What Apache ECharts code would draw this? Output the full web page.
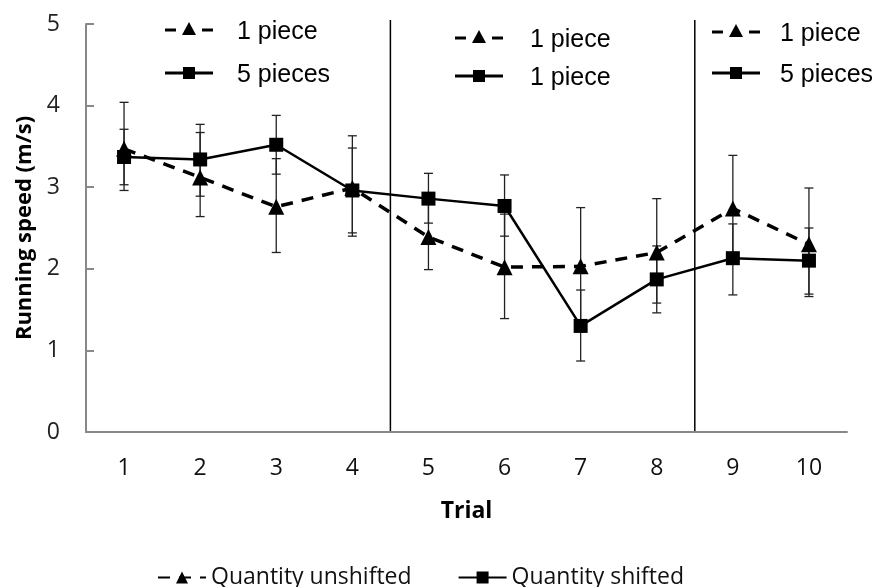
<!DOCTYPE html>
<html><head><meta charset="utf-8">
<script src="https://cdn.jsdelivr.net/npm/echarts@6/dist/echarts.min.js"></script>
<style>html,body{margin:0;padding:0;background:#fff}#c{width:875px;height:587px}</style>
</head><body><div id="c"></div>
<script>
const trials = ['1','2','3','4','5','6','7','8','9','10'];
const unshifted = [3.47, 3.12, 2.76, 2.99, 2.39, 2.02, 2.03, 2.20, 2.74, 2.30];
const unshiftedLow = [2.96, 2.64, 2.20, 2.40, 1.99, 1.39, 1.31, 1.58, 2.09, 1.66];
const unshiftedHigh = [4.04, 3.67, 3.35, 3.63, 2.79, 2.67, 2.75, 2.86, 3.39, 2.99];
const shifted = [3.37, 3.34, 3.52, 2.96, 2.86, 2.77, 1.30, 1.87, 2.13, 2.10];
const shiftedLow = [3.03, 2.89, 3.16, 2.44, 2.56, 2.40, 0.87, 1.46, 1.68, 1.69];
const shiftedHigh = [3.71, 3.77, 3.88, 3.48, 3.17, 3.15, 1.74, 2.28, 2.55, 2.50];
const yTicks = [0, 1, 2, 3, 4, 5];
const dividers = [4, 8];
const groupLabels = [['1 piece', '5 pieces'], ['1 piece', '1 piece'], ['1 piece', '5 pieces']];

const chart = echarts.init(document.getElementById('c'));

function errSeries(low, high) {
  return {
    type: 'custom', xAxisIndex: 0, yAxisIndex: 0, silent: true, z: 1,
    data: low.map((l, i) => [i, l, high[i]]),
    renderItem: function (params, api) {
      const lo = api.coord([api.value(0), api.value(1)]);
      const hi = api.coord([api.value(0), api.value(2)]);
      const w = 4.5;
      const st = { stroke: '#222', lineWidth: 1.3 };
      return { type: 'group', children: [
        { type: 'line', shape: { x1: lo[0], y1: lo[1], x2: hi[0], y2: hi[1] }, style: st },
        { type: 'line', shape: { x1: lo[0] - w, y1: lo[1], x2: lo[0] + w, y2: lo[1] }, style: st },
        { type: 'line', shape: { x1: hi[0] - w, y1: hi[1], x2: hi[0] + w, y2: hi[1] }, style: st }
      ]};
    }
  };
}

// inset legend graphics
const legendPos = [[165, 237, 30, 73], [455, 530, 38, 76], [712, 780, 32, 73]];
const graphics = [];
const insetFont = '25px "Liberation Sans", Arial, sans-serif';
legendPos.forEach((p, gi) => {
  const [sx, tx, y1, y2] = p;
  graphics.push({ type: 'line', shape: { x1: sx, y1: y1, x2: sx + 11, y2: y1 }, style: { stroke: '#000', lineWidth: 3 } });
  graphics.push({ type: 'line', shape: { x1: sx + 37, y1: y1, x2: sx + 48, y2: y1 }, style: { stroke: '#000', lineWidth: 3 } });
  graphics.push({ type: 'polygon', shape: { points: [[sx + 24, y1 - 8], [sx + 17, y1 + 5], [sx + 31, y1 + 5]] }, style: { fill: '#000' } });
  graphics.push({ type: 'text', left: tx, top: y1 - 10, style: { text: groupLabels[gi][0], font: insetFont, fill: '#000' } });
  graphics.push({ type: 'line', shape: { x1: sx, y1: y2, x2: sx + 48, y2: y2 }, style: { stroke: '#000', lineWidth: 3 } });
  graphics.push({ type: 'rect', shape: { x: sx + 18, y: y2 - 6, width: 12, height: 12 }, style: { fill: '#000' } });
  graphics.push({ type: 'text', left: tx, top: y2 - 10, style: { text: groupLabels[gi][1], font: insetFont, fill: '#000' } });
});

chart.setOption({
  animation: false,
  backgroundColor: '#fff',
  textStyle: { fontFamily: '"Open Sans", "Noto Sans", sans-serif' },
  grid: { left: 86, right: 28, top: 24, bottom: 155, containLabel: false },
  graphic: graphics,
  legend: {
    bottom: -7, left: 152, itemGap: 46, itemWidth: 48, itemHeight: 15,
    textStyle: { fontSize: 23, color: '#111', fontFamily: '"Open Sans", "Noto Sans", sans-serif' },
    data: ['Quantity unshifted', 'Quantity shifted']
  },
  xAxis: [{
    type: 'category', data: trials, boundaryGap: true,
    name: 'Trial', nameLocation: 'middle', nameGap: 68,
    nameTextStyle: { fontSize: 23, fontWeight: 'bold', color: '#000' },
    axisLine: { lineStyle: { color: '#888', width: 2 } },
    axisTick: { inside: true, length: 8, lineStyle: { color: '#888', width: 2 }, alignWithLabel: false },
    axisLabel: { fontSize: 23, color: '#111', margin: 25 }
  }, {
    type: 'value', min: 0, max: 10, show: false
  }],
  yAxis: {
    type: 'value', min: yTicks[0], max: yTicks[yTicks.length - 1], interval: 1,
    name: 'Running speed (m/s)', nameLocation: 'middle', nameGap: 45,
    nameTextStyle: { fontSize: 22, fontWeight: 'bold', color: '#000' },
    axisLine: { show: true, lineStyle: { color: '#888', width: 2 } },
    axisTick: { show: true, inside: true, length: 8, lineStyle: { color: '#888', width: 2 } },
    splitLine: { show: false },
    axisLabel: { fontSize: 23, color: '#222', margin: 26 }
  },
  series: [
    errSeries(unshiftedLow, unshiftedHigh),
    errSeries(shiftedLow, shiftedHigh),
    {
      type: 'custom', xAxisIndex: 1, yAxisIndex: 0, silent: true, z: 0,
      data: dividers.map(d => [d]),
      renderItem: function (params, api) {
        const a = api.coord([api.value(0), 5]);
        const b = api.coord([api.value(0), 0]);
        return { type: 'line', shape: { x1: a[0], y1: a[1] - 4, x2: b[0], y2: b[1] }, style: { stroke: '#000', lineWidth: 1.5 } };
      }
    },
    {
      name: 'Quantity unshifted', type: 'line', data: unshifted, z: 3,
      symbol: 'triangle', symbolSize: 16, showAllSymbol: true,
      itemStyle: { color: '#000' },
      lineStyle: { color: '#000', width: 3.5, type: [12, 9] }
    },
    {
      name: 'Quantity shifted', type: 'line', data: shifted, z: 4,
      symbol: 'rect', symbolSize: 14, showAllSymbol: true,
      itemStyle: { color: '#000' },
      lineStyle: { color: '#000', width: 2.5, type: 'solid' }
    }
  ]
});
</script></body></html>
